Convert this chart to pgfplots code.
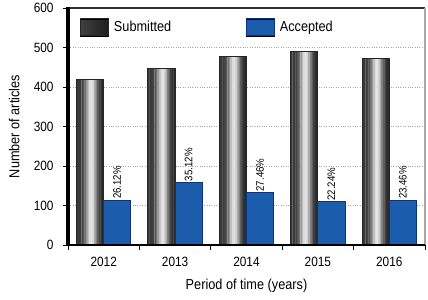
\documentclass[border=0pt]{standalone}
\usepackage{pgfplots}
\usepackage{pgfplotstable}
\pgfplotsset{compat=1.18}
\usepackage{fontspec}
\setmainfont[FakeStretch=0.88]{Liberation Sans}
\definecolor{bluemain}{RGB}{28,92,172}
\definecolor{bluelight}{RGB}{95,140,205}
\definecolor{blueedge}{RGB}{10,52,125}
\pgfplotstableread{
x y
0 420
1 446
2 476
3 489
4 473
}\subdata
\begin{document}
\begin{tikzpicture}
\useasboundingbox (-68bp,-55bp) rectangle (360bp,245bp);
\begin{axis}[
  at={(0,0)}, anchor=south west,
  scale only axis, width=357bp, height=237bp,
  xmin=-0.5, xmax=4.5, ymin=0, ymax=600,
  xtick={0,1,2,3,4},
  xticklabels={2012,2013,2014,2015,2016},
  minor xtick={-0.5,0.5,1.5,2.5,3.5,4.5},
  ytick={0,100,200,300,400,500,600},
  xtick pos=bottom, ytick pos=left,
  tick align=outside,
  major x tick style={draw=none},
  minor x tick style={black, line width=1pt},
  minor tick length=5pt,
  major tick length=5pt,
  ytick style={black, line width=1pt},
  /pgf/number format/assume math mode=true,
  /pgf/number format/1000 sep={},
  ticklabel style={font=\fontsize{13.5}{16}\selectfont},
  yticklabel shift=6pt,
  xticklabel shift=4pt,
  ymajorgrids,
  grid style={dotted, gray!70, line width=0.6pt},
  axis line style={draw=none},
  xlabel={Period of time (years)},
  ylabel={Number of articles},
  label style={font=\fontsize{14.5}{17}\selectfont},
  xlabel style={yshift=-5pt},
  ylabel style={yshift=7.5pt},
  legend columns=2,
  legend style={at={(axis description cs:0.025,0.965)}, anchor=north west,
    draw=none, fill=none, font=\fontsize{14.5}{17}\selectfont,
    /tikz/every odd column/.append style={column sep=3pt},
    /tikz/every even column/.append style={column sep=73pt}},
  extra description/.code={
    \draw[gray!40!black, line width=1.5pt] (0,1) -- (1,1);
    \draw[gray!70, line width=1.5pt] (1,0) -- (1,1);
    \draw[black, line width=3.5pt] (0,-0.005) -- (0,1.003);
    \draw[black, line width=2.5pt] (0,0) -- (1,0);
  },
]
% submitted bars: cylinder-like shading built from narrow stripes of the same data
\pgfplotsforeachungrouped \i in {0,...,16}{%
  \pgfmathsetmacro\s{-0.38+(\i+0.5)*0.38/17}%
  \pgfmathsetmacro\t{(\i+0.5)/17}%
  \pgfmathsetmacro\p{14+8*(1-\t)+72*exp(-((\t-0.55)/0.22)^2)}%
  \edef\tmp{\noexpand\addplot[ybar, bar width=0.025, bar shift=\s, fill=white!\p!black, draw=none, forget plot] table[x=x,y=y] {\noexpand\subdata};}%
  \tmp
}
\addplot[ybar, bar width=0.38, bar shift=-0.19, draw=black!85, line width=1pt, fill=none, forget plot]
  table[x=x,y=y] {\subdata};
\addplot[ybar, bar width=0.38, bar shift=0.19, draw=blueedge, line width=1pt, fill=bluemain, forget plot,
  point meta=explicit symbolic,
  nodes near coords={\rotatebox{90}{\pgfplotspointmeta\%}},
  every node near coord/.append style={inner sep=1pt, xshift=13.5bp,
    font=\fontsize{11}{12}\selectfont, text=black}]
  coordinates {(0,113) [26.12] (1,158) [35.12] (2,132) [27.46] (3,109) [22.24] (4,113) [23.46]};
\addlegendimage{legend image code/.code={
  \shade[left color=black!75, middle color=white!92!black, right color=black!88] (0pt,-8.5pt) rectangle (28pt,8.5pt);
  \draw[black!85, line width=1pt] (0pt,-8.5pt) rectangle (28pt,8.5pt);}}
\addlegendentry{Submitted}
\addlegendimage{legend image code/.code={
  \shade[shading=axis, left color=bluemain, middle color=bluelight, right color=bluemain, shading angle=45] (0pt,-8.5pt) rectangle (28pt,8.5pt);
  \draw[blueedge, line width=1pt] (0pt,-8.5pt) rectangle (28pt,8.5pt);}}
\addlegendentry{Accepted}
\end{axis}
\end{tikzpicture}
\end{document}
